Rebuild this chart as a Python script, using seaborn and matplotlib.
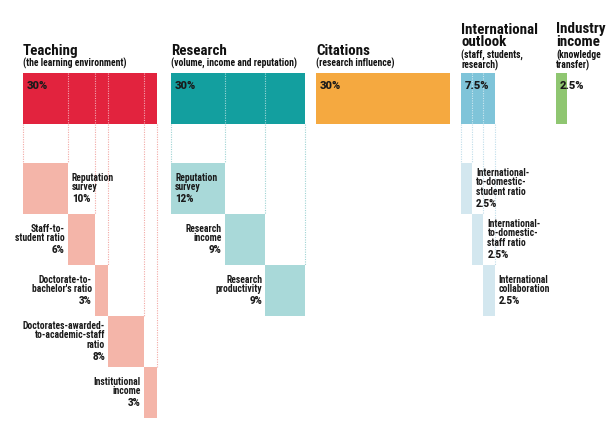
import matplotlib
matplotlib.use("Agg")
import matplotlib.pyplot as plt
import seaborn as sns

# pillar weights (%)
pillars = ["Teaching", "Research", "Citations", "International\noutlook", "Industry\nincome"]
pillar_subtitles = ["(the learning environment)", "(volume, income and reputation)",
                    "(research influence)", "(staff, students,\nresearch)", "(knowledge\ntransfer)"]
pillar_weights = [30, 30, 30, 7.5, 2.5]
pillar_labels = ["30%", "30%", "30%", "7.5%", "2.5%"]

# sub-indicators per pillar
teaching_names = ["Reputation\nsurvey", "Staff-to-\nstudent ratio", "Doctorate-to-\nbachelor's ratio",
                  "Doctorates-awarded-\nto-academic-staff\nratio", "Institutional\nincome"]
teaching_weights = [10, 6, 3, 8, 3]
teaching_labels = ["10%", "6%", "3%", "8%", "3%"]

research_names = ["Reputation\nsurvey", "Research\nincome", "Research\nproductivity"]
research_weights = [12, 9, 9]
research_labels = ["12%", "9%", "9%"]

intl_names = ["International-\nto-domestic-\nstudent ratio", "International-\nto-domestic-\nstaff ratio",
              "International\ncollaboration"]
intl_weights = [2.5, 2.5, 2.5]
intl_labels = ["2.5%", "2.5%", "2.5%"]

# layout (pixels)
SCALE = 4.48          # px per percentage point
col_x = [23, 171, 316, 461, 556]
TOP_Y, TOP_H = 73, 51
SUB_Y, SUB_H = 163, 51

main_colors = ["#E2233E", "#139F9F", "#F5A940", "#7FC4D9", "#8FC671"]
sub_colors = ["#F4B5A9", "#A9D9D9", None, "#D3E7EF", None]
line_colors = ["#F2A9A5", "#9ED3D3", None, "#BFDDEA", None]

sns.set_theme(style="white")
NARROW = ["Roboto Condensed", "Archivo Narrow", "DejaVu Sans"]
HEAVY = ["Roboto", "DejaVu Sans"]
plt.rcParams["font.family"] = NARROW

fig = plt.figure(figsize=(6.14, 4.42), dpi=100)
ax = fig.add_axes([0, 0, 1, 1])
ax.set_xlim(0, 614)
ax.set_ylim(442, 0)
ax.axis("off")

# headers
for i, name in enumerate(pillars):
    x0 = col_x[i]
    sub = pillar_subtitles[i].split("\n")
    sbase = 58.5 if len(sub) > 1 else 67
    for k, ln in enumerate(sub):
        ax.text(x0, sbase + 10 * k, ln, ha="left", va="baseline", fontsize=6.9,
                fontweight="bold", family=NARROW, color="#111111")
    head = name.split("\n")
    hlast = sbase - 12
    for k, ln in enumerate(head):
        ax.text(x0, hlast - 13 * (len(head) - 1 - k), ln, ha="left", va="baseline",
                fontsize=10.8, fontweight="bold", family=NARROW, color="#111111")

# main bars
for i, w in enumerate(pillar_weights):
    ax.barh(TOP_Y + TOP_H / 2, w * SCALE, left=col_x[i], height=TOP_H,
            color=main_colors[i], edgecolor="none", zorder=2)
    ax.text(col_x[i] + 4, TOP_Y + 13, pillar_labels[i], ha="left", va="center",
            fontsize=8, fontweight="black", family=HEAVY, color="#1a1a1a", zorder=4)


def draw_breakdown(idx, weights, names, labels, placements):
    x0 = col_x[idx]
    edges = [x0]
    for w in weights:
        edges.append(edges[-1] + w * SCALE)
    n = len(weights)
    for j, xe in enumerate(edges):
        end = SUB_Y + SUB_H * min(max(j - 1, 0), n - 1) if j > 0 else SUB_Y
        # dotted guide under main bar
        ax.plot([xe, xe], [TOP_Y + TOP_H, end], ls=(0, (1, 1.2)), lw=0.8,
                color=line_colors[idx], zorder=1)
        # dotted divider inside main bar
        if 0 < j < n:
            ax.plot([xe, xe], [TOP_Y, TOP_Y + TOP_H], ls=(0, (1, 1.2)), lw=0.8,
                    color="white", alpha=0.6, zorder=3)
    for j, w in enumerate(weights):
        top = SUB_Y + SUB_H * j
        ax.barh(top + SUB_H / 2, w * SCALE, left=edges[j], height=SUB_H,
                color=sub_colors[idx], edgecolor="none", zorder=2)
        lines = names[j].split("\n")
        nl = len(lines)
        total = (nl - 1) * 9.3 + 12.5 + 7
        b0 = top + (SUB_H - total) / 2 + 6.5
        place = placements[j]
        if place == "left":
            tx, ha = edges[j] - 3, "right"
        elif place == "inside":
            tx, ha = edges[j] + 4, "left"
        else:
            tx, ha = edges[j + 1] + 4, "left"
        for k, ln in enumerate(lines):
            ax.text(tx, b0 + 9.3 * k, ln, ha=ha, va="baseline", fontsize=6.9,
                    fontweight="bold", family=NARROW, color="#1a1a1a", zorder=4)
        ax.text(tx, b0 + 9.3 * (nl - 1) + 12.5, labels[j], ha=ha, va="baseline",
                fontsize=7, fontweight="black", family=HEAVY, color="#1a1a1a", zorder=4)


draw_breakdown(0, teaching_weights, teaching_names, teaching_labels,
               ["right", "left", "left", "left", "left"])
draw_breakdown(1, research_weights, research_names, research_labels,
               ["inside", "left", "left"])
draw_breakdown(3, intl_weights, intl_names, intl_labels,
               ["right", "right", "right"])

fig.savefig("out.png", dpi=100)
